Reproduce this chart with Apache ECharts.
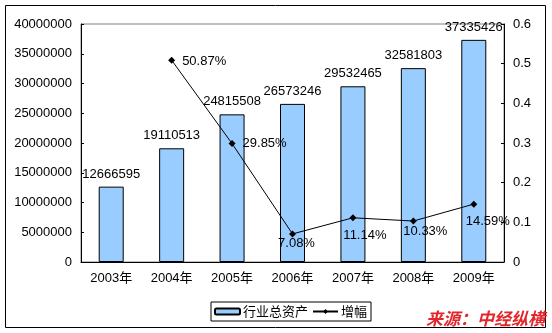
<!DOCTYPE html>
<html>
<head>
<meta charset="utf-8">
<script src="https://cdn.jsdelivr.net/npm/echarts@6/dist/echarts.min.js"></script>
<style>html,body{margin:0;padding:0;background:#fff}#c{width:552px;height:333px}</style>
</head>
<body>
<div id="c"></div>
<script>
var categories = ['2003年','2004年','2005年','2006年','2007年','2008年','2009年'];
var totalAssets = [12666595, 19110513, 24815508, 26573246, 29532465, 32581803, 37335426];
var growth = [null, 0.5087, 0.2985, 0.0708, 0.1114, 0.1033, 0.1459];
var barName = '行业总资产';
var lineName = '增幅';
var sourceText = '来源：中经纵横';

var FONT = '"Liberation Sans", Arial, "Noto Sans CJK SC", sans-serif';
var CJK = '"Noto Sans CJK SC", sans-serif';

// label placement for each growth point (style only)
var lineLabelStyle = [
  null,
  {position: 'right', distance: 7, offset: [0, 1]},
  {position: 'right', distance: 7, offset: [0, 0]},
  {position: 'bottom', distance: 0, offset: [4, 0]},
  {position: 'bottom', distance: 0, offset: [12, 8]},
  {position: 'bottom', distance: 0, offset: [12, 0]},
  {position: 'bottom', distance: 0, offset: [14, 7]}
];

var lineData = growth.map(function (v, i) {
  if (v === null) return null;
  var s = lineLabelStyle[i];
  return {value: v, label: {position: s.position, distance: s.distance, offset: s.offset}};
});

var chart = echarts.init(document.getElementById('c'), null, {renderer: 'canvas'});
chart.setOption({
  animation: false,
  backgroundColor: '#fff',
  textStyle: {fontFamily: FONT, color: '#000'},
  title: {
    text: sourceText,
    left: 426, top: 310, padding: 0,
    textStyle: {color: '#e3262b', fontSize: 17, fontWeight: 'bold', fontStyle: 'italic', fontFamily: CJK}
  },
  graphic: [{
    type: 'rect', left: 3, top: 3, z: -1,
    shape: {width: 540, height: 322},
    style: {fill: 'none', stroke: '#000', lineWidth: 1}
  }],
  grid: {left: 81, top: 24, right: 48, bottom: 71, show: true, borderColor: '#808080', borderWidth: 1, backgroundColor: 'transparent'},
  legend: {
    left: 211, top: 302,
    padding: [3, 4, 3, 3],
    itemGap: 4,
    itemWidth: 25, itemHeight: 6,
    borderColor: '#000', borderWidth: 1,
    textStyle: {fontSize: 13, fontFamily: CJK, color: '#000', padding: [0, 0, 0, -2]},
    data: [barName, lineName]
  },
  xAxis: {
    type: 'category',
    data: categories,
    axisLine: {lineStyle: {color: '#000', width: 1}},
    axisTick: {inside: true, length: 3, lineStyle: {color: '#000'}},
    axisLabel: {color: '#000', fontSize: 13, margin: 10, fontFamily: FONT}
  },
  yAxis: [{
    type: 'value', min: 0, max: 40000000, interval: 5000000,
    axisLine: {show: true, lineStyle: {color: '#000'}},
    axisTick: {show: true, inside: true, length: 3, lineStyle: {color: '#000'}},
    splitLine: {show: false},
    axisLabel: {color: '#000', fontSize: 13, margin: 9, formatter: function (v) { return String(v); }}
  }, {
    type: 'value', min: 0, max: 0.6, interval: 0.1,
    axisLine: {show: true, lineStyle: {color: '#000'}},
    axisTick: {show: true, inside: true, length: 3, lineStyle: {color: '#000'}},
    splitLine: {show: false},
    axisLabel: {color: '#000', fontSize: 13, margin: 9, formatter: function (v) { return v === 0 ? '0' : String(Math.round(v * 10) / 10); }}
  }],
  series: [{
    name: barName,
    type: 'bar',
    data: totalAssets,
    barWidth: 25,
    itemStyle: {color: '#99ccff', borderColor: '#000', borderWidth: 1},
    label: {show: true, position: 'top', distance: 6, color: '#000', fontSize: 13, fontFamily: FONT,
      formatter: function (p) { return String(p.value); }}
  }, {
    name: lineName,
    type: 'line',
    yAxisIndex: 1,
    data: lineData,
    connectNulls: false,
    symbol: 'diamond', symbolSize: 7,
    lineStyle: {color: '#000', width: 1},
    itemStyle: {color: '#000'},
    label: {show: true, color: '#000', fontSize: 13, fontFamily: FONT,
      formatter: function (p) { return (p.value * 100).toFixed(2) + '%'; }},
    z: 5
  }]
});
</script>
</body>
</html>
